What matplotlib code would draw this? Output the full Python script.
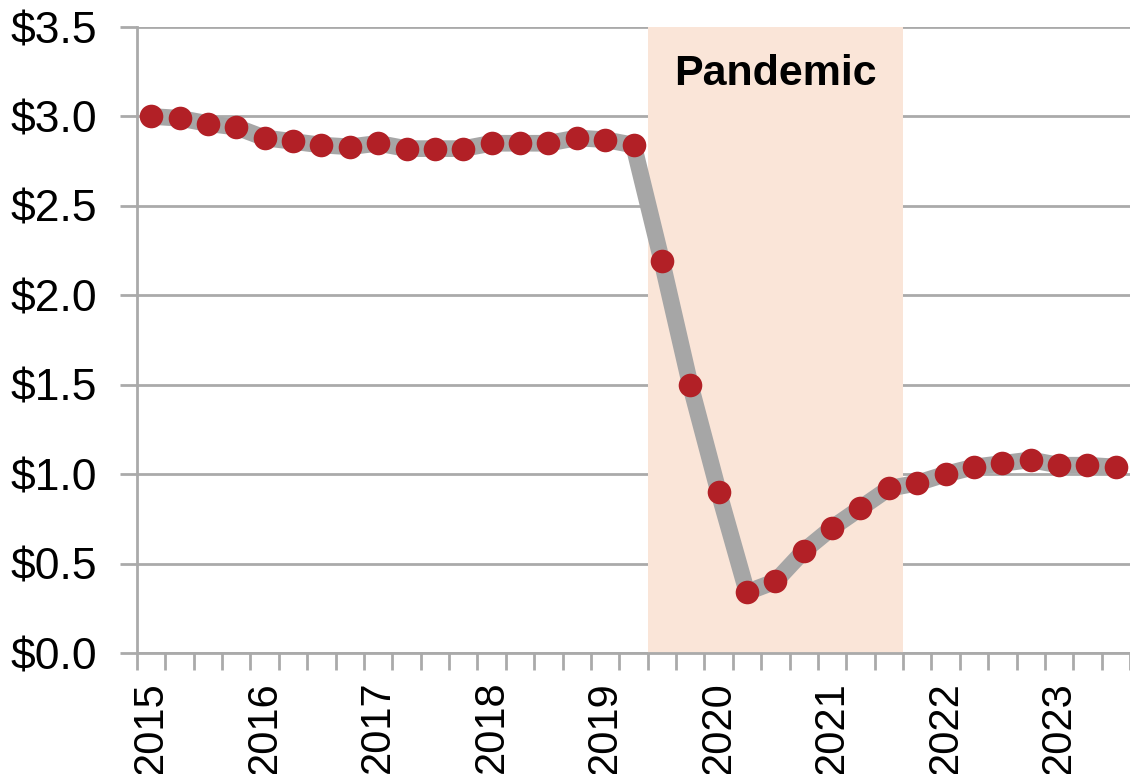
import numpy as np
import matplotlib.pyplot as plt

# quarterly values, 2015 Q1 .. 2023 Q3
years = ['2015', '2016', '2017', '2018', '2019', '2020', '2021', '2022', '2023']
values = [3.00, 2.99, 2.96, 2.94, 2.88, 2.86, 2.84, 2.83,
          2.85, 2.82, 2.82, 2.82, 2.85, 2.85, 2.85, 2.88,
          2.87, 2.84, 2.19, 1.50, 0.90, 0.34, 0.40, 0.57,
          0.70, 0.81, 0.92, 0.95, 1.00, 1.04, 1.06, 1.08,
          1.05, 1.05, 1.04]
pandemic = (17.5, 26.5)  # quarter index span
yticks = [0.0, 0.5, 1.0, 1.5, 2.0, 2.5, 3.0, 3.5]

plt.rcParams['font.family'] = ['Liberation Sans', 'DejaVu Sans']
grey = '#AAAAAA'

fig = plt.figure(figsize=(11.3, 7.74), dpi=100)
ax = fig.add_axes([137 / 1130, 1 - 653 / 774, 1 - 137 / 1130, (653 - 27) / 774])

x = np.arange(len(values))
ax.axvspan(pandemic[0], pandemic[1], color='#FAE5D8', zorder=1, lw=0)
ax.plot(x, values, color='#A6A6A6', lw=12, solid_capstyle='butt', zorder=2)
ax.plot(x, values, 'o', color='#B22026', ms=17, mec='none', zorder=3)
ax.text(sum(pandemic) / 2, 3.24, 'Pandemic', ha='center', va='center',
        fontsize=31, fontweight='bold', zorder=4)

ax.set_ylim(0, 3.5)
ax.set_xlim(-0.5, 33.95)
ax.set_yticks(yticks)
ax.set_yticklabels(['$%.1f' % v for v in yticks])
ax.yaxis.grid(True, color=grey, lw=2, zorder=0.5)
ax.set_axisbelow(True)

ax.set_xticks(np.arange(0, len(values), 4))
ax.set_xticklabels(years, rotation=90)
ax.set_xticks(np.arange(-0.5, len(values), 1), minor=True)
ax.tick_params(axis='x', which='major', length=0, pad=20, labelsize=30)
ax.tick_params(axis='x', which='minor', length=12, width=2, color=grey)
ax.tick_params(axis='y', length=12, width=2, color=grey, pad=17, labelsize=32)

for s in ['top', 'right']:
    ax.spines[s].set_visible(False)
for s in ['left', 'bottom']:
    ax.spines[s].set_color(grey)
    ax.spines[s].set_linewidth(2)

fig.savefig('out.png', dpi=100)
